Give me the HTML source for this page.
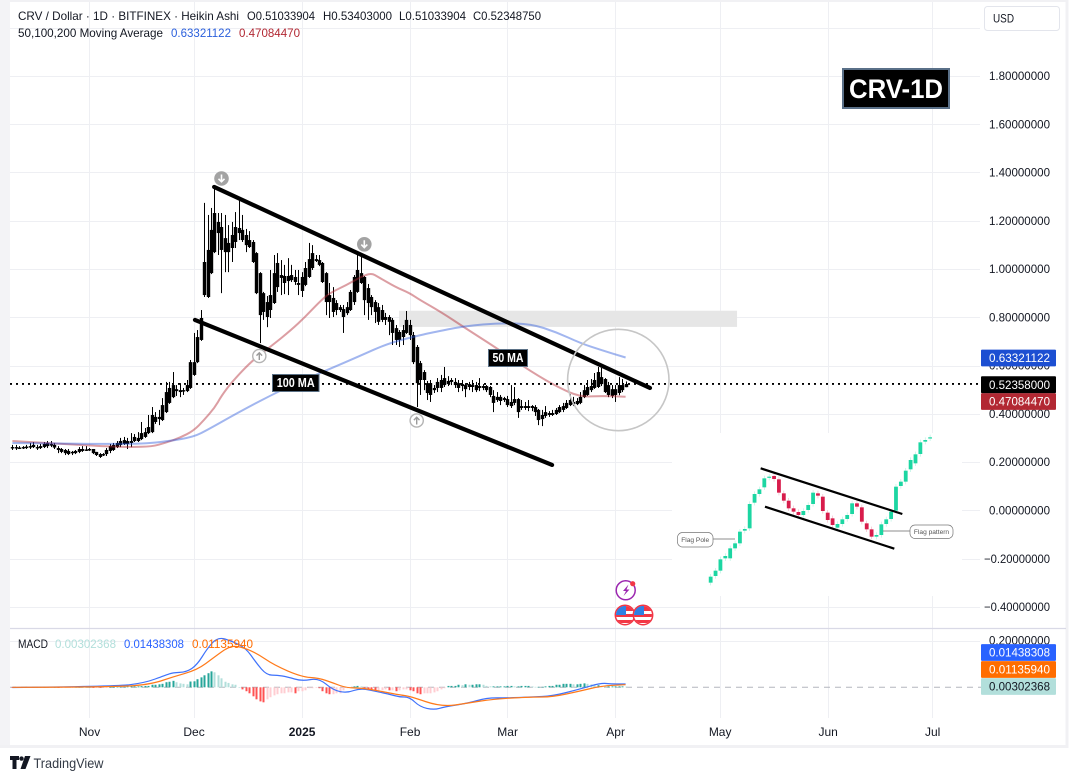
<!DOCTYPE html>
<html lang="en">
<head>
<meta charset="utf-8">
<title>CRV / Dollar 1D chart</title>
<style>
html,body{margin:0;padding:0;background:#fff;}
body{width:1076px;height:781px;overflow:hidden;}
svg{display:block;font-family:"Liberation Sans",sans-serif;}
</style>
</head>
<body>
<svg id="chart" xmlns="http://www.w3.org/2000/svg" width="1076" height="781" viewBox="0 0 1076 781">
  <defs>
    <clipPath id="flagclip-a"><circle cx="625" cy="615" r="9"/></clipPath>
    <clipPath id="flagclip-b"><circle cx="643" cy="615" r="9"/></clipPath>
    <filter id="soft" x="-5%" y="-5%" width="110%" height="110%"><feGaussianBlur stdDeviation="0.35"/></filter>
  </defs>

  <rect x="0" y="0" width="1076" height="781" fill="#ffffff"/>
  <rect x="0" y="0" width="1068" height="2" fill="#f1f1f4"/>
  <rect x="0" y="0" width="10" height="748" fill="#f3f3f6"/>
  <rect x="1065.5" y="0" width="3" height="748" fill="#f1f1f4"/>
  <rect x="0" y="745" width="1068" height="3" fill="#f1f1f4"/>

  <g id="grid"></g>
  <rect id="zone" fill="#e6e6e6"/>

  <g id="candles"></g>
  <g id="ma-lines"></g>
  <line id="last-price" stroke="#000" stroke-width="1.8" stroke-dasharray="2 4"/>
  <g id="trendlines"></g>

  <circle cx="618.3" cy="380" r="50.7" fill="none" stroke="#c6c6c6" stroke-width="1.6"/>

  <g>
    <circle cx="221.5" cy="178.5" r="7.3" fill="#a3a3a3"/>
    <path d="M221.5 174.5v7M218.5 178.8l3 3 3-3" fill="none" stroke="#fff" stroke-width="1.6"/>
  </g>
  <g>
    <circle cx="364.3" cy="244.3" r="7.3" fill="#a3a3a3"/>
    <path d="M364.3 240.3v7M361.3 244.6l3 3 3-3" fill="none" stroke="#fff" stroke-width="1.6"/>
  </g>
  <g>
    <circle cx="259.3" cy="356" r="6.6" fill="#fff" stroke="#b4b4b4" stroke-width="1.4"/>
    <path d="M259.3 360v-7M256.5 355.6l2.8-2.8 2.8 2.8" fill="none" stroke="#9a9a9a" stroke-width="1.4"/>
  </g>
  <g>
    <circle cx="416.7" cy="420.5" r="6.6" fill="#fff" stroke="#b4b4b4" stroke-width="1.4"/>
    <path d="M416.7 424.5v-7M413.9 420.1l2.8-2.8 2.8 2.8" fill="none" stroke="#9a9a9a" stroke-width="1.4"/>
  </g>

  <g>
    <rect x="272.5" y="374.5" width="46.5" height="17" fill="#000" stroke="#5b7186"/>
    <text x="295.7" y="387" text-anchor="middle" fill="#fff" font-size="12.5" font-weight="bold" textLength="38" lengthAdjust="spacingAndGlyphs">100 MA</text>
  </g>
  <g>
    <rect x="488.5" y="349.5" width="39" height="17" fill="#000" stroke="#5b7186"/>
    <text x="508" y="362" text-anchor="middle" fill="#fff" font-size="12.5" font-weight="bold" textLength="31" lengthAdjust="spacingAndGlyphs">50 MA</text>
  </g>
  <g>
    <rect x="843" y="69" width="106" height="39" fill="#000" stroke="#5a7088" stroke-width="2"/>
    <text x="896" y="98" text-anchor="middle" fill="#fff" font-size="27" font-weight="bold" textLength="94" lengthAdjust="spacingAndGlyphs">CRV-1D</text>
  </g>

  <g>
    <circle cx="625.7" cy="590.3" r="9.5" fill="#fff" stroke="#9c27b0" stroke-width="1.5"/>
    <path d="M628.5 584.5l-5.5 6.5h3l-2.5 5 6-6.5h-3z" fill="#9c27b0"/>
    <circle cx="632.7" cy="583.7" r="2.6" fill="#f23645"/>
    <g>
      <circle cx="625" cy="615" r="9.7" fill="#fff" stroke="#f23645" stroke-width="1.5"/>
      <g clip-path="url(#flagclip-a)">
        <rect x="616" y="606" width="18" height="5" fill="#f23645"/>
        <rect x="616" y="614" width="18" height="3" fill="#f23645"/>
        <rect x="616" y="620" width="18" height="3" fill="#f23645"/>
        <rect x="616" y="606" width="10" height="9" fill="#2f80e4"/>
      </g>
    </g>
    <g>
      <circle cx="643" cy="615" r="9.7" fill="#fff" stroke="#f23645" stroke-width="1.5"/>
      <g clip-path="url(#flagclip-b)">
        <rect x="634" y="606" width="18" height="5" fill="#f23645"/>
        <rect x="634" y="614" width="18" height="3" fill="#f23645"/>
        <rect x="634" y="620" width="18" height="3" fill="#f23645"/>
        <rect x="634" y="606" width="10" height="9" fill="#2f80e4"/>
      </g>
    </g>
  </g>

  <g id="flag-inset">
    <rect x="672" y="433" width="290" height="163" fill="#fff"/>
    <g id="flag-marks" filter="url(#soft)"></g>
    <g>
      <line x1="713" y1="539" x2="735" y2="539" stroke="#666" stroke-width="0.8"/>
      <rect x="677.5" y="532.5" width="35.5" height="14.5" rx="5" fill="#fff" stroke="#777" stroke-width="0.7"/>
      <text x="695.2" y="542" text-anchor="middle" font-size="6.6" fill="#555">Flag Pole</text>
    </g>
    <g>
      <line x1="883" y1="531" x2="910" y2="531" stroke="#666" stroke-width="0.8"/>
      <rect x="910" y="525" width="43" height="13.5" rx="5" fill="#fff" stroke="#777" stroke-width="0.7"/>
      <text x="931.5" y="534" text-anchor="middle" font-size="6.6" fill="#555">Flag pattern</text>
    </g>
  </g>

  <g id="macd"></g>

  <g font-size="12">
    <text x="18" y="20" fill="#131722" textLength="221" lengthAdjust="spacingAndGlyphs">CRV / Dollar · 1D · BITFINEX · Heikin Ashi</text>
    <text x="247" y="20" fill="#131722" textLength="68" lengthAdjust="spacingAndGlyphs">O0.51033904</text>
    <text x="323" y="20" fill="#131722" textLength="69" lengthAdjust="spacingAndGlyphs">H0.53403000</text>
    <text x="399" y="20" fill="#131722" textLength="67" lengthAdjust="spacingAndGlyphs">L0.51033904</text>
    <text x="473" y="20" fill="#131722" textLength="68" lengthAdjust="spacingAndGlyphs">C0.52348750</text>
    <text x="18" y="37" fill="#131722" textLength="145" lengthAdjust="spacingAndGlyphs">50,100,200 Moving Average</text>
    <text x="171" y="37" fill="#2a5fdc" textLength="60" lengthAdjust="spacingAndGlyphs">0.63321122</text>
    <text x="239" y="37" fill="#b22833" textLength="61" lengthAdjust="spacingAndGlyphs">0.47084470</text>
    <text x="18" y="648" fill="#131722" textLength="30" lengthAdjust="spacingAndGlyphs">MACD</text>
    <text x="55" y="648" fill="#b2dfdb" textLength="61" lengthAdjust="spacingAndGlyphs">0.00302368</text>
    <text x="124" y="648" fill="#2962ff" textLength="60" lengthAdjust="spacingAndGlyphs">0.01438308</text>
    <text x="192" y="648" fill="#ff6d00" textLength="61" lengthAdjust="spacingAndGlyphs">0.01135940</text>
  </g>

  <g>
    <rect x="984.5" y="6.5" width="75" height="24" rx="3" fill="#fff" stroke="#e3e5ec"/>
    <text x="993" y="22.5" font-size="12" fill="#131722" textLength="21" lengthAdjust="spacingAndGlyphs">USD</text>
  </g>

  <g id="price-axis"></g>
  <g id="time-axis"></g>
  <g id="tags"></g>

  <g>
    <path d="M10 756h9v4h-2.5v9h-4v-9H10z" fill="#131722"/>
    <circle cx="21.5" cy="758.6" r="2.2" fill="#131722"/>
    <path d="M25 756h5.5l-5 13h-5z" fill="#131722"/>
    <text x="33.5" y="768" font-size="14" fill="#333a45" textLength="70" lengthAdjust="spacingAndGlyphs">TradingView</text>
  </g>
</svg>

<script>
// Candles: daily values, starting 10 Oct 2024
const bodyTop = [
.262,.262,.260,.262,.264,.266,.271,.262,.266,.275,
.279,.275,.271,.258,.254,.250,.246,.242,.246,.254,
.254,.252,.254,.254,.242,.233,.233,.250,.266,.271,
.279,.287,.291,.287,.287,.304,.300,.320,.324,.345,
.395,.387,.387,.436,.490,.507,.519,.502,.498,.498,
.519,.614,.614,.718,.797,1.029,1.079,1.162,1.232,1.195,
1.174,1.128,1.108,1.141,1.174,1.170,1.162,1.141,1.120,1.112,
1.066,.983,.900,.863,.892,.983,1.025,.975,.971,.971,
.975,.967,.942,.967,1.004,1.041,1.066,1.041,1.037,1.025,
.983,.892,.880,.859,.842,.834,.842,.905,.967,.996,
.983,.967,.921,.884,.863,.842,.830,.801,.801,.789,
.755,.739,.747,.789,.768,.726,.677,.610,.573,.527,
.527,.507,.532,.540,.548,.536,.540,.532,.527,.523,
.519,.523,.519,.519,.515,.515,.515,.511,.474,.470,
.470,.465,.461,.449,.461,.461,.432,.432,.432,.432,
.428,.416,.395,.407,.403,.403,.416,.428,.432,.445,
.457,.449,.453,.470,.498,.511,.515,.540,.573,.552,
.544,.519,.502,.502,.519,.519,.5235];
const bodyBottom = [
.258,.258,.258,.258,.258,.260,.262,.258,.258,.262,
.266,.268,.260,.250,.242,.237,.233,.237,.237,.242,
.246,.250,.248,.237,.229,.221,.229,.233,.246,.250,
.262,.271,.275,.275,.279,.287,.287,.295,.304,.320,
.324,.366,.378,.374,.407,.445,.469,.494,.490,.494,
.494,.507,.561,.614,.706,.892,.884,.983,1.070,1.149,
1.079,1.070,1.070,1.087,1.112,1.149,1.120,1.099,1.091,1.029,
.900,.809,.822,.801,.830,.859,.925,.963,.942,.950,
.954,.946,.934,.909,.934,.967,1.004,1.033,1.017,.946,
.863,.863,.822,.830,.830,.801,.817,.830,.863,.905,
.942,.871,.859,.842,.822,.781,.789,.789,.781,.735,
.706,.706,.718,.735,.726,.614,.527,.540,.540,.486,
.478,.498,.507,.507,.519,.523,.532,.519,.507,.515,
.502,.511,.511,.498,.507,.507,.498,.478,.445,.457,
.453,.457,.436,.432,.445,.407,.424,.424,.424,.424,
.407,.374,.378,.391,.395,.395,.399,.407,.416,.424,
.436,.440,.440,.445,.469,.478,.498,.507,.511,.523,
.490,.478,.474,.478,.486,.498,.5103];
const wickHigh = [
.271,.271,.266,.266,.271,.279,.283,.271,.275,.283,
.287,.287,.279,.266,.258,.254,.254,.246,.250,.262,
.266,.266,.258,.254,.242,.237,.237,.258,.275,.279,
.287,.300,.304,.300,.320,.316,.324,.366,.341,.395,
.428,.407,.416,.465,.532,.532,.573,.519,.527,.507,
.540,.623,.735,.747,.830,1.274,1.224,1.253,1.336,1.232,
1.232,1.224,1.182,1.195,1.236,1.286,1.224,1.166,1.157,1.120,
1.070,.987,.905,.888,.996,1.058,1.066,1.037,1.017,1.045,
1.017,.996,.996,.987,1.029,1.108,1.099,1.058,1.058,1.029,
.987,.942,.925,.871,.851,.851,.863,.913,.975,1.058,
1.058,.971,.938,.892,.871,.859,.851,.818,.809,.797,
.768,.747,.768,.826,.789,.739,.685,.619,.581,.536,
.540,.519,.548,.561,.594,.556,.548,.548,.540,.540,
.527,.532,.540,.532,.548,.523,.519,.515,.498,.490,
.478,.470,.474,.519,.511,.465,.457,.449,.457,.436,
.436,.420,.416,.432,.411,.416,.424,.436,.445,.457,
.481,.470,.465,.490,.519,.540,.544,.569,.594,.590,
.548,.532,.519,.519,.552,.544,.534];
const wickLow = [
.250,.250,.254,.254,.254,.254,.258,.250,.254,.258,
.258,.262,.254,.237,.237,.229,.229,.229,.233,.237,
.242,.246,.246,.233,.225,.217,.225,.225,.237,.246,
.258,.262,.271,.254,.262,.283,.283,.291,.300,.316,
.320,.358,.353,.370,.403,.441,.465,.474,.469,.478,
.490,.503,.557,.610,.702,.884,.880,.979,1.066,1.058,
.900,.987,.987,1.029,1.087,1.120,1.112,1.070,1.087,1.025,
.896,.693,.789,.759,.797,.855,.905,.892,.896,.892,
.946,.934,.892,.884,.929,.963,.996,1.029,1.012,.942,
.809,.797,.801,.809,.822,.735,.809,.826,.851,.901,
.938,.809,.789,.809,.776,.768,.780,.768,.726,.685,
.685,.677,.685,.731,.706,.606,.428,.478,.498,.457,
.449,.486,.490,.490,.511,.515,.519,.507,.490,.494,
.469,.498,.490,.490,.494,.498,.490,.469,.407,.449,
.436,.449,.428,.424,.436,.383,.416,.416,.411,.411,
.391,.353,.349,.383,.387,.391,.395,.403,.407,.420,
.432,.432,.436,.440,.465,.474,.490,.503,.507,.515,
.486,.469,.465,.449,.477,.490,.5103];

// Moving averages: sampled by day number
const maRedDays = [0,14,28,34,40,44,48,52,55,58,60,63,69,74,80,84,88,91,96,100,103,105,110,114,117,123,130,139,149,157,163,169,176];
const maRedValues = [.287,.275,.264,.262,.264,.280,.300,.330,.374,.424,.474,.532,.623,.677,.747,.801,.862,.900,.934,.967,.983,.967,.925,.900,.871,.822,.755,.672,.573,.507,.470,.474,.4708];
const maBlueDays = [0,14,25,34,40,45,52,56,65,77,89,99,108,116,120,130,140,149,156,163,169,176];
const maBlueValues = [.279,.277,.275,.275,.279,.287,.304,.333,.407,.498,.573,.635,.693,.722,.735,.764,.776,.772,.739,.693,.664,.6332];

// MACD pane
const macdDays = [0,29,38,44,46,50,53,56,59,63,67,70,73,76,79,83,88,92,96,100,105,108,111,114,117,121,124,131,136,142,149,155,163,169,172,176];
const macdValues = [-.001,.003,.019,.053,.063,.066,.097,.170,.218,.200,.170,.105,.053,.053,.045,.027,.040,-.012,-.025,-.003,-.020,-.029,-.042,-.042,-.085,-.098,-.085,-.068,-.046,-.046,-.042,-.038,-.007,.019,.014,.0144];
const signalDays = [0,30,40,46,53,58,62,65,70,75,83,88,92,96,101,111,114,123,131,138,149,155,163,169,176];
const signalValues = [0,.001,.014,.045,.075,.131,.175,.179,.149,.097,.045,.040,.019,-.003,-.003,-.033,-.038,-.085,-.068,-.051,-.042,-.042,-.016,.006,.0114];
const histogram = [
-.001,-.001,.001,.001,.002,.001,.001,.001,.001,.001,
.002,.001,.001,-.001,-.001,-.001,-.001,-.001,.001,.001,
.001,.001,.001,-.001,-.001,-.002,-.002,-.001,.001,.001,
.002,.002,.002,.003,.004,.004,.004,.005,.006,.006,
.011,.011,.013,.015,.022,.024,.028,.022,.017,.015,
.013,.025,.026,.035,.043,.052,.061,.069,.065,.052,
.039,.024,.019,.013,.011,0,-.009,-.017,-.026,-.039,
-.052,-.061,-.065,-.052,-.043,-.035,-.030,-.026,-.026,-.022,
-.022,-.026,-.017,-.017,-.013,-.004,-.004,-.001,-.004,-.017,
-.026,-.030,-.030,-.026,-.026,-.013,-.004,-.004,.004,.006,
.004,-.004,-.009,-.011,-.013,-.013,-.013,-.009,-.013,-.013,
-.017,-.013,-.009,-.009,-.013,-.017,-.026,-.030,-.026,-.026,
-.026,-.022,-.017,-.009,-.004,.006,.006,.006,.011,.009,
.013,.011,.011,.013,.013,.011,.006,.004,.004,.004,
.004,.004,.006,.006,.004,.004,.006,.006,.006,.004,
.002,.002,.002,.004,.006,.006,.011,.011,.015,.015,
.015,.013,.013,.015,.017,.015,.013,.009,.009,.006,
.004,.004,.004,.004,.004,.004,.003];

// Axis labels and last values
const priceTicks = [1.8,1.6,1.4,1.2,1.0,0.8,0.6,0.4,0.2,0,-0.2,-0.4];
const gridOnlyTicks = [2.0];
const macdTicks = [0.2];
const timeLabels = ["Nov","Dec","2025","Feb","Mar","Apr","May","Jun","Jul"];
const timeDays = [22,52,83,114,142,173,203,234,264];
const lastPrice = 0.52358;
const maBlueLast = 0.63321122;
const maRedLast = 0.47084470;
const macdLast = 0.01438308;
const signalLast = 0.01135940;
const histLast = 0.00302368;

// Channel and zone drawn on the price chart, in day / price units
const upperChannelDays = [57.9,183];
const upperChannelPrices = [1.340,.507];
const lowerChannelDays = [52.4,154.9];
const lowerChannelPrices = [.789,.188];
const zoneDays = [111,208];
const zonePrices = [.827,.760];

// Flag-pattern illustration, index units
const flagOpen = [2,22,38,75,75,105,120,158,165,242,268,288,317,322,312,270,248,225,214,205,220,238,270,260,212,195,167,178,193,208,240,228,180,162,140,145,178,193,218,292,305,342,360,388,425,435];
const flagClose = [20,38,72,82,105,120,155,163,238,268,282,315,320,313,272,248,225,215,205,217,235,272,263,217,190,175,178,192,205,240,230,185,162,140,145,177,192,215,290,305,338,370,387,423,430,438];
const flagTopLineIdx = [10.25,39.3];
const flagTopLineVal = [345,208];
const flagBottomLineIdx = [11.14,37.66];
const flagBottomLineVal = [230,104];

const SVGNS = "http://www.w3.org/2000/svg";
function xOf(day){ return 12.4 + 3.484 * day; }
function yOf(price){ return 510.3 - 241.3 * price; }
function macdY(v){ return 687.3 - 231 * v; }
function flagX(k){ return 670 + (122 + 14.63 * k) / 3; }
function flagY(v){ return 430 + (460 - v) / 3; }

function make(tag, parent, props){
  const el = document.createElementNS(SVGNS, tag);
  for (const k in props) el.setAttribute(k, props[k]);
  parent.appendChild(el);
  return el;
}
function smoothPath(pts){
  let d = "M" + pts[0][0].toFixed(1) + " " + pts[0][1].toFixed(1);
  for (let i = 1; i < pts.length - 1; i++){
    const mx = (pts[i][0] + pts[i+1][0]) / 2;
    const my = (pts[i][1] + pts[i+1][1]) / 2;
    d += "Q" + pts[i][0].toFixed(1) + " " + pts[i][1].toFixed(1) + " " + mx.toFixed(1) + " " + my.toFixed(1);
  }
  const last = pts[pts.length - 1];
  return d + "L" + last[0].toFixed(1) + " " + last[1].toFixed(1);
}
function seriesPoints(days, values, yFn){
  return days.map(function(d, i){ return [xOf(d), yFn(values[i])]; });
}
function priceText(v){
  const s = Math.abs(v).toFixed(8);
  return v < 0 ? "\u2212" + s : s;
}

// Grid
const grid = document.getElementById("grid");
priceTicks.concat(gridOnlyTicks).forEach(function(p){
  const line = make("line", grid, {x1:10, x2:980, y1:Math.round(yOf(p))+0.5, y2:Math.round(yOf(p))+0.5, stroke:"#eeeff3"});
  
  
});
timeDays.forEach(function(d){
  const line = make("line", grid, {x1:Math.round(xOf(d))+0.5, x2:Math.round(xOf(d))+0.5, y1:2, y2:718, stroke:"#eeeff3"});
  
  
});
macdTicks.forEach(function(v){
  const line = make("line", grid, {x1:10, x2:980, y1:Math.round(macdY(v))+0.5, y2:Math.round(macdY(v))+0.5, stroke:"#eeeff3"});
  
  
});
const pane = make("line", grid, {x1:10, x2:1066, y1:628.5, y2:628.5, stroke:"#d9d9e6", "stroke-width":1.2});



// Supply zone
const zone = document.getElementById("zone");
zone.setAttribute("x", xOf(zoneDays[0]));
zone.setAttribute("width", xOf(zoneDays[1]) - xOf(zoneDays[0]));
zone.setAttribute("y", yOf(zonePrices[0]));
zone.setAttribute("height", yOf(zonePrices[1]) - yOf(zonePrices[0]));

// Candles
const candleGroup = document.getElementById("candles");
bodyTop.forEach(function(top, i){
  const cx = xOf(i);
  const hi = yOf(wickHigh[i]);
  const lo = yOf(wickLow[i]);
  const yTop = yOf(top);
  const h = Math.max(1.4, yOf(bodyBottom[i]) - yTop);
  const wick = make("rect", candleGroup, {x:Math.round(cx), y:hi, width:1, height:Math.max(0.5, lo - hi), fill:"#000"});
  
  
  const body = make("rect", candleGroup, {x:Math.round(cx) + 0.5 - 1.7, y:yTop, width:3.4, height:h, fill:"#000"});
  
  
});

// Moving averages, translucent over the candles
const maGroup = document.getElementById("ma-lines");
const maRed = make("path", maGroup, {d:smoothPath(seriesPoints(maRedDays, maRedValues, yOf)), fill:"none", stroke:"#b22833", "stroke-opacity":0.45, "stroke-width":2, "stroke-linejoin":"round"});


const maBlue = make("path", maGroup, {d:smoothPath(seriesPoints(maBlueDays, maBlueValues, yOf)), fill:"none", stroke:"#2251d8", "stroke-opacity":0.42, "stroke-width":2, "stroke-linejoin":"round"});



// Last price line
const lp = document.getElementById("last-price");
lp.setAttribute("x1", 10);
lp.setAttribute("x2", 981);
lp.setAttribute("y1", yOf(lastPrice));
lp.setAttribute("y2", yOf(lastPrice));

// Channel lines
const tl = document.getElementById("trendlines");
const upper = make("line", tl, {x1:xOf(upperChannelDays[0]), y1:yOf(upperChannelPrices[0]), x2:xOf(upperChannelDays[1]), y2:yOf(upperChannelPrices[1]), stroke:"#000", "stroke-width":4.2, "stroke-linecap":"round"});


const lower = make("line", tl, {x1:xOf(lowerChannelDays[0]), y1:yOf(lowerChannelPrices[0]), x2:xOf(lowerChannelDays[1]), y2:yOf(lowerChannelPrices[1]), stroke:"#000", "stroke-width":4.2, "stroke-linecap":"round"});



// Flag inset
const flagMarks = document.getElementById("flag-marks");
flagOpen.forEach(function(o, k){
  const c = flagClose[k];
  const up = c >= o;
  const color = up ? "#1fd6a2" : "#d81b4c";
  const x = flagX(k);
  const wick = make("line", flagMarks, {x1:x, x2:x, y1:flagY(Math.max(o, c) + 8), y2:flagY(Math.min(o, c) - 8), stroke:color, "stroke-width":0.6, opacity:0.35});
  
  
  const body = make("rect", flagMarks, {x:x - 1.9, y:flagY(Math.max(o, c)), width:3.8, height:Math.max(1.2, Math.abs(flagY(c) - flagY(o))), fill:color});
  
  
});
const flagTop = make("line", flagMarks, {x1:flagX(flagTopLineIdx[0]), y1:flagY(flagTopLineVal[0]), x2:flagX(flagTopLineIdx[1]), y2:flagY(flagTopLineVal[1]), stroke:"#000", "stroke-width":2.2});


const flagBottom = make("line", flagMarks, {x1:flagX(flagBottomLineIdx[0]), y1:flagY(flagBottomLineVal[0]), x2:flagX(flagBottomLineIdx[1]), y2:flagY(flagBottomLineVal[1]), stroke:"#000", "stroke-width":2.2});



// MACD
const macdGroup = document.getElementById("macd");
const zeroLine = make("line", macdGroup, {x1:10, x2:981, y1:macdY(0), y2:macdY(0), stroke:"#b4b6bd", "stroke-dasharray":"6 5"});


histogram.forEach(function(v, i){
  const prev = i > 0 ? histogram[i - 1] : 0;
  let color;
  if (v >= 0) color = v >= prev ? "#26a69a" : "#b2dfdb";
  else color = v < prev ? "#ff5252" : "#ffcdd2";
  const y0 = macdY(0);
  const y1 = macdY(v);
  const bar = make("rect", macdGroup, {x:Math.round(xOf(i)) - 0.5, y:Math.min(y0, y1), width:2, height:Math.max(0.6, Math.abs(y1 - y0)), fill:color});
  
  
});
const macdLine = make("path", macdGroup, {d:smoothPath(seriesPoints(macdDays, macdValues, macdY)), fill:"none", stroke:"#3f72fb", "stroke-width":1.2});


const signalLine = make("path", macdGroup, {d:smoothPath(seriesPoints(signalDays, signalValues, macdY)), fill:"none", stroke:"#ff7a1a", "stroke-width":1.2});



// Price axis labels
const axis = document.getElementById("price-axis");
priceTicks.forEach(function(p){
  const t = make("text", axis, {x:1050, y:yOf(p) + 4.2, "text-anchor":"end", "font-size":12, fill:"#131722"});
  
  
  t.setAttribute('textLength', p < 0 ? 66 : 61);
  t.setAttribute('lengthAdjust', 'spacingAndGlyphs');
  t.textContent = priceText(p);
});
macdTicks.forEach(function(v){
  const t = make("text", axis, {x:1050, y:macdY(v) + 3.5, "text-anchor":"end", "font-size":12, fill:"#131722"});
  
  
  t.setAttribute('textLength', 61);
  t.setAttribute('lengthAdjust', 'spacingAndGlyphs');
  t.textContent = priceText(v);
});

// Time axis labels
const timeAxis = document.getElementById("time-axis");
timeLabels.forEach(function(label, i){
  const t = make("text", timeAxis, {x:xOf(timeDays[i]) + 0.5, y:736, "text-anchor":"middle", "font-size":12, fill:"#131722"});
  if (label === "2025") t.setAttribute("font-weight", "bold");
  
  
  t.textContent = label;
});

// Right-hand value tags
const tags = document.getElementById("tags");
function addTag(value, centerY, bg, fg, name){
  const box = make("rect", tags, {x:981, y:centerY - 8.4, width:75, height:16.8, fill:bg, rx:1});
  
  
  const t = make("text", tags, {x:1050, y:centerY + 4.2, "text-anchor":"end", "font-size":12, fill:fg, textLength:61, lengthAdjust:"spacingAndGlyphs"});
  
  
  t.textContent = value.toFixed(8);
}
addTag(maBlueLast, 358, "#1c4fd2", "#fff", "ma-blue-tag");
addTag(maRedLast, 401.5, "#b22833", "#fff", "ma-red-tag");
addTag(lastPrice, 384.7, "#000", "#fff", "last-price-tag");
addTag(macdLast, 652.5, "#2962ff", "#fff", "macd-line-tag");
addTag(signalLast, 669.5, "#ff6d00", "#fff", "macd-signal-tag");
addTag(histLast, 686.5, "#b2dfdb", "#131722", "macd-histogram-tag");
</script>
</body>
</html>
